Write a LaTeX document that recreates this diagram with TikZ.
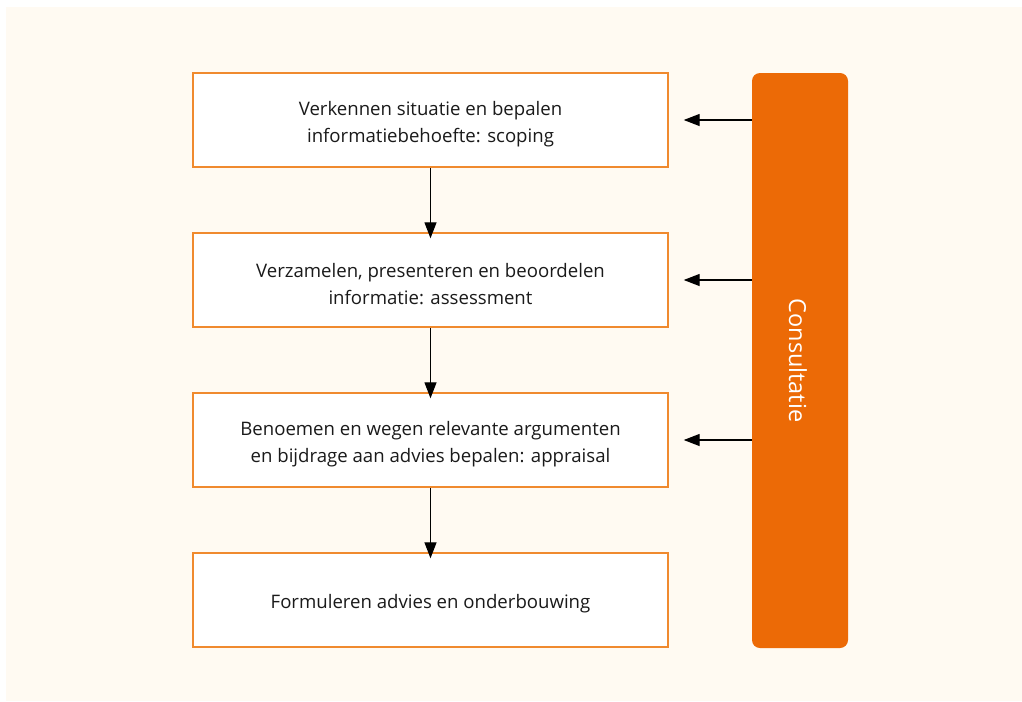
\documentclass[tikz,border=0pt]{standalone}
\usepackage{fontspec}
\setmainfont{Open Sans}
\usetikzlibrary{arrows.meta}
\definecolor{cream}{HTML}{FFFAF2}
\definecolor{boxorange}{HTML}{F08A2E}
\definecolor{barorange}{HTML}{EC6A06}
\definecolor{txt}{HTML}{1A1A1A}
\tikzset{
  stepbox/.style={draw=boxorange, line width=1.4pt, fill=white, minimum width=475pt, minimum height=94pt, inner sep=0pt},
  steptext/.style={inner sep=0pt, align=center, font=\fontsize{18.6}{26.5}\selectfont, text=txt},
  arr/.style={line width=1.3pt, -{Triangle[length=16pt,width=12pt]}},
}
\begin{document}
\begin{tikzpicture}[x=1pt,y=-1pt]
\useasboundingbox (0,0) rectangle (1022,701);
\fill[white] (0,0) rectangle (1022,701);
\fill[cream] (6,7) rectangle (1022,701);
\node[stepbox] (b1) at (430.5,120) {};
\node[stepbox] (b2) at (430.5,280) {};
\node[stepbox] (b3) at (430.5,440) {};
\node[stepbox] (b4) at (430.5,600) {};
\node[steptext] (t1) at ([yshift=-4pt]b1.center) {Verkennen situatie en bepalen\\informatiebehoefte: scoping};
\node[steptext] (t2) at ([yshift=-4pt]b2.center) {Verzamelen, presenteren en beoordelen\\informatie: assessment};
\node[steptext] (t3) at ([yshift=-4pt]b3.center) {Benoemen en wegen relevante argumenten\\en bijdrage aan advies bepalen: appraisal};
\node[steptext] (t4) at ([yshift=-4pt]b4.center) {Formuleren advies en onderbouwing};
\node[fill=barorange, rounded corners=8pt, minimum width=96pt, minimum height=575pt, inner sep=0pt] (bar) at (800,360.5) {};
\node[rotate=-90, text=white, font=\fontsize{23.5}{28}\selectfont] (lab) at ([xshift=-2pt]bar.center) {Consultatie};
\draw[arr] (b1.south) -- ([yshift=-6pt]b2.north);
\draw[arr] (b2.south) -- ([yshift=-6pt]b3.north);
\draw[arr] (b3.south) -- ([yshift=-6pt]b4.north);
\draw[arr] (bar.west |- b1.east) -- ([xshift=15pt]b1.east);
\draw[arr] (bar.west |- b2.east) -- ([xshift=15pt]b2.east);
\draw[arr] (bar.west |- b3.east) -- ([xshift=15pt]b3.east);
\end{tikzpicture}
\end{document}
